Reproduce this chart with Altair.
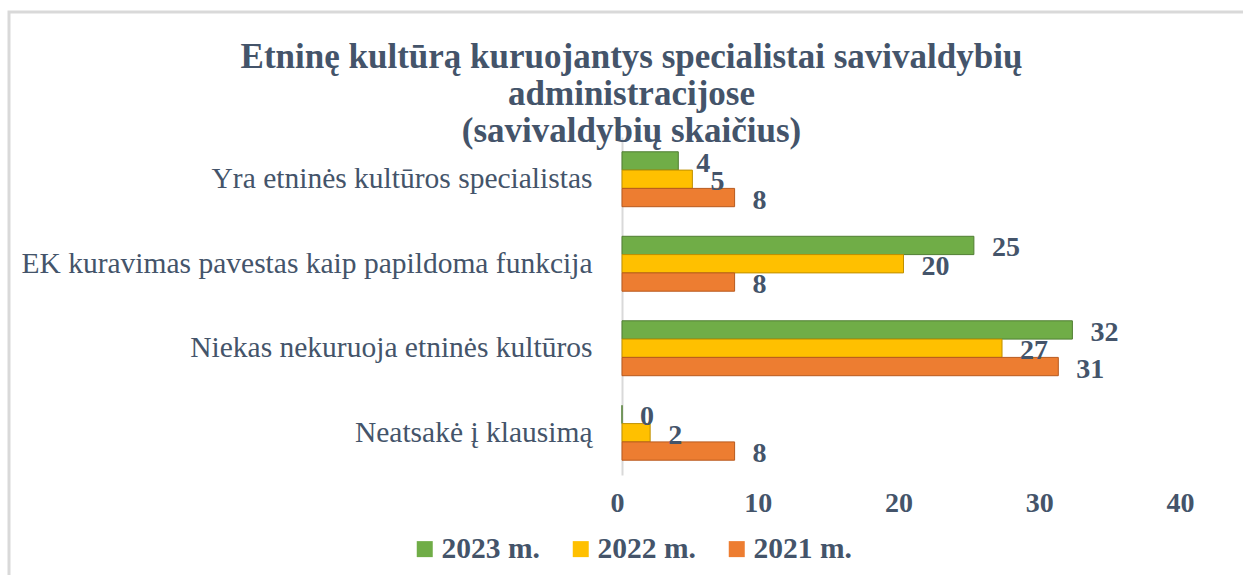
import altair as alt
import pandas as pd

categories = [
    "Yra etninės kultūros specialistas",
    "EK kuravimas pavestas kaip papildoma funkcija",
    "Niekas nekuruoja etninės kultūros",
    "Neatsakė į klausimą",
]
series = ["2023 m.", "2022 m.", "2021 m."]
values_2023 = [4, 25, 32, 0]
values_2022 = [5, 20, 27, 2]
values_2021 = [8, 8, 31, 8]
colors = ["#70AD47", "#FFC000", "#ED7D31"]
x_ticks = [0, 10, 20, 30, 40]

rows = []
for s, vals in zip(series, [values_2023, values_2022, values_2021]):
    for c, v in zip(categories, vals):
        rows.append({"cat": c, "series": s, "value": v})
df = pd.DataFrame(rows)

TXT = "#44546A"
FONT = "Liberation Serif"

y_enc = alt.Y("cat:N", sort=categories, title=None,
              scale=alt.Scale(paddingInner=0.35, paddingOuter=0.175),
              axis=alt.Axis(labelFont=FONT, labelFontSize=29.5, labelColor=TXT,
                            labelPadding=30, ticks=False, domainColor="#D9D9D9",
                            domainWidth=2, labelLimit=700))
yoff = alt.YOffset("series:N", sort=series)
x_enc = alt.X("value:Q", title=None,
              scale=alt.Scale(domain=[0, 40]),
              axis=alt.Axis(values=x_ticks, grid=False, domain=False, ticks=False,
                            labelFlush=False, labelOffset=-5,
                            labelFont=FONT, labelFontSize=28, labelFontWeight="bold",
                            labelColor=TXT, labelPadding=14))

base = alt.Chart(df)

bars = base.mark_bar(strokeWidth=1).encode(
    y=y_enc, yOffset=yoff, x=x_enc,
    color=alt.Color("series:N", sort=series,
                    scale=alt.Scale(domain=series, range=colors),
                    legend=alt.Legend(title=None, orient="none", direction="horizontal",
                                      legendX=-212, legendY=397,
                                      symbolType="square", symbolSize=256,
                                      symbolStrokeWidth=0,
                                      labelFont=FONT, labelFontSize=29.5,
                                      labelFontWeight="bold", labelColor=TXT,
                                      columnPadding=26, labelOffset=2)),
    stroke=alt.Color("series:N", sort=series,
                     scale=alt.Scale(domain=series,
                                     range=["#507E32", "#BF9000", "#B85A1E"]),
                     legend=None),
)

labels = base.mark_text(align="left", baseline="middle", dx=18, dy=3,
                        font=FONT, fontSize=28, fontWeight="bold", color=TXT).encode(
    y=alt.Y("cat:N", sort=categories), yOffset=yoff, x="value:Q", text="value:Q")

frame = alt.Chart(pd.DataFrame({"a": [0]})).mark_rect(
    fill=None, stroke="#D9D9D9", strokeWidth=3).encode(
    x=alt.value(-613), x2=alt.value(700), y=alt.value(-125), y2=alt.value(520))

chart = alt.layer(frame, bars, labels).properties(
    width=563, height=338,
    background="white",
    padding={"left": 622, "top": 137, "right": 58, "bottom": 100},
    autosize=alt.AutoSizeParams(type="none"),
    title=alt.TitleParams(
        ["Etninę kultūrą kuruojantys specialistai savivaldybių",
         "administracijose", "(savivaldybių skaičius)"],
        font=FONT, fontSize=35, fontWeight="bold", color=TXT,
        lineHeight=37, anchor="middle", dx=-272, offset=0, dy=138),
).configure_view(strokeWidth=0, stroke="transparent")

chart.save("out.html", embed_options={"renderer": "svg", "actions": False})
